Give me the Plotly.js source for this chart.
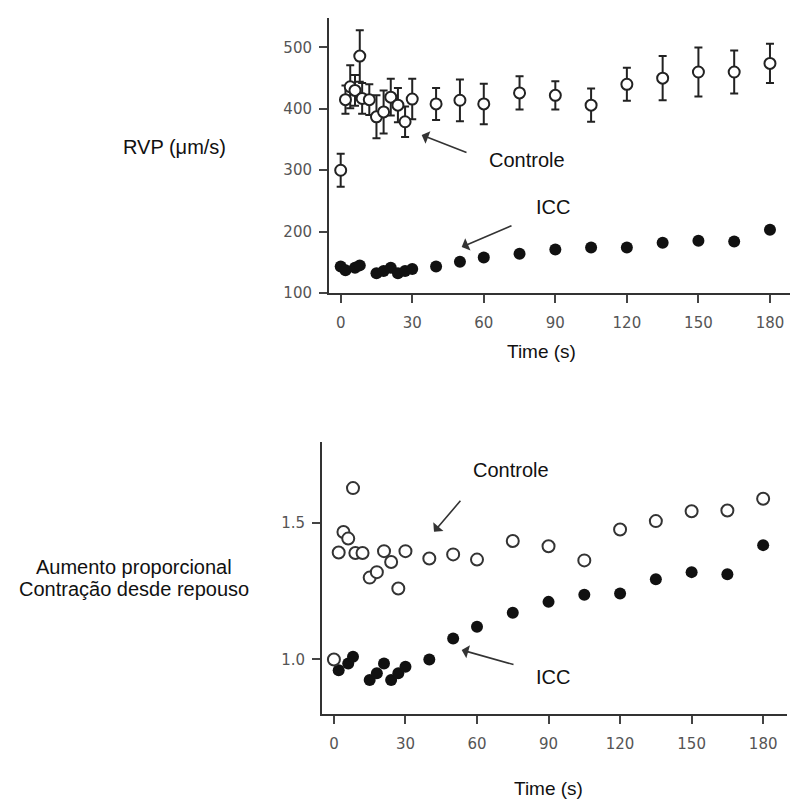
<!DOCTYPE html>
<html>
<head>
<meta charset="utf-8">
<script src="https://cdn.plot.ly/plotly-3.0.1.min.js"></script>
<style>html,body{margin:0;padding:0;background:#fff;}#chart{width:790px;height:799px;}</style>
</head>
<body>
<div id="chart"></div>
<script>
// ---- Data ----
// Top panel: RVP (um/s)
const timeCtrl = [0, 2, 4, 6, 8, 9, 12, 15, 18, 21, 24, 27, 30, 40, 50, 60, 75, 90, 105, 120, 135, 150, 165, 180];
const rvpCtrl  = [300, 415, 436, 430, 486, 417, 415, 387, 395, 419, 406, 379, 416, 408, 414, 408, 426, 422, 406, 440, 450, 460, 460, 474];
const rvpCtrlErr = [27, 23, 35, 25, 42, 25, 25, 35, 35, 30, 28, 25, 33, 26, 34, 33, 27, 23, 27, 27, 36, 40, 35, 32];

const timeIcc = [0, 2, 6, 8, 15, 18, 21, 24, 27, 30, 40, 50, 60, 75, 90, 105, 120, 135, 150, 165, 180];
const rvpIcc  = [143, 137, 141, 145, 132, 136, 141, 132, 136, 139, 143, 151, 158, 164, 171, 174, 174, 182, 185, 184, 203];

// Bottom panel: proportional increase of contraction since rest
const propCtrl = [1.00, 1.392, 1.467, 1.443, 1.628, 1.39, 1.39, 1.30, 1.32, 1.397, 1.357, 1.26, 1.397, 1.37, 1.385, 1.366, 1.434, 1.415, 1.363, 1.476, 1.507, 1.543, 1.546, 1.589];
const propIcc  = [1.00, 0.96, 0.985, 1.01, 0.925, 0.949, 0.985, 0.925, 0.949, 0.973, 1.00, 1.077, 1.12, 1.171, 1.211, 1.237, 1.242, 1.294, 1.32, 1.312, 1.419];

const xTicks = [0, 30, 60, 90, 120, 150, 180];
const yTicksTop = [100, 200, 300, 400, 500];
const yTicksBottom = [1.0, 1.5];
const yTicksBottomText = ['1.0', '1.5'];

// ---- Traces ----
const traces = [
  {x: timeIcc, y: rvpIcc, xaxis: 'x', yaxis: 'y', mode: 'markers', type: 'scatter',
   marker: {symbol: 'circle', size: 12, color: '#111', line: {width: 0}}},
  {x: timeCtrl, y: rvpCtrl, xaxis: 'x', yaxis: 'y', mode: 'markers', type: 'scatter',
   error_y: {type: 'data', array: rvpCtrlErr, visible: true, thickness: 2, width: 4, color: '#222'},
   marker: {symbol: 'circle', size: 11, color: '#fff', line: {width: 2, color: '#222'}}},
  {x: timeIcc, y: propIcc, xaxis: 'x2', yaxis: 'y2', mode: 'markers', type: 'scatter',
   marker: {symbol: 'circle', size: 12, color: '#111', line: {width: 0}}},
  {x: timeCtrl, y: propCtrl, xaxis: 'x2', yaxis: 'y2', mode: 'markers', type: 'scatter',
   marker: {symbol: 'circle', size: 12, color: '#fff', line: {width: 2, color: '#333'}}}
];

const W = 790, H = 799;
const px = v => v / W;
const py = v => 1 - v / H;

const tickFont = {family: 'DejaVu Sans', size: 15, color: '#555'};
const axisCommon = {
  showline: true, linecolor: '#333', linewidth: 2,
  ticks: 'outside', ticklen: 8, tickwidth: 2, tickcolor: '#444',
  showgrid: false, zeroline: false, tickfont: tickFont, fixedrange: true
};

const labelFont = {family: 'Liberation Sans, Arial, sans-serif', color: '#111'};
function txt(t, x, y, size) {
  return {text: t, x: px(x), y: py(y), xref: 'paper', yref: 'paper', showarrow: false,
          xanchor: 'center', yanchor: 'middle', font: Object.assign({size: size}, labelFont)};
}
function arrow(hx, hy, tx, ty) {
  return {text: '', x: px(hx), y: py(hy), xref: 'paper', yref: 'paper', showarrow: true,
          ax: tx - hx, ay: ty - hy, arrowhead: 1, arrowsize: 1.4, arrowwidth: 1.6,
          arrowcolor: '#333', standoff: 0, startstandoff: 0};
}

const layout = {
  width: W, height: H,
  margin: {l: 0, r: 0, t: 0, b: 0},
  paper_bgcolor: '#fff', plot_bgcolor: 'rgba(0,0,0,0)',
  showlegend: false,
  xaxis: Object.assign({}, axisCommon, {domain: [px(329), 1], range: [-4.9, 188.4], tickvals: xTicks, anchor: 'y', ticklabelstandoff: 7}),
  yaxis: Object.assign({}, axisCommon, {domain: [py(293), py(18)], range: [100, 548], tickvals: yTicksTop, anchor: 'x', ticklabelstandoff: 4}),
  xaxis2: Object.assign({}, axisCommon, {domain: [px(322), px(787)], range: [-5, 190], tickvals: xTicks, anchor: 'y2', ticklabelstandoff: 7}),
  yaxis2: Object.assign({}, axisCommon, {domain: [py(714), py(442)], range: [0.8, 1.797], tickvals: yTicksBottom, ticktext: yTicksBottomText, anchor: 'x2', ticklabelstandoff: 4}),
  annotations: [
    txt('RVP (μm/s)', 174, 147, 20),
    txt('Controle', 527, 160, 20),
    txt('ICC', 553, 207, 20),
    txt('Time (s)', 541, 351, 19),
    txt('Controle', 511, 470, 20),
    txt('ICC', 553, 677, 20),
    txt('Time (s)', 548, 788, 19),
    txt('Aumento proporcional', 134, 567, 20),
    txt('Contração desde repouso', 134, 589, 20),
    arrow(421.7, 135, 468, 153),
    arrow(461.7, 247, 513, 225),
    arrow(434, 531.7, 461.7, 499.3),
    arrow(461.7, 650, 515, 665)
  ]
};

Plotly.newPlot('chart', traces, layout, {displayModeBar: false, staticPlot: true});
</script>
</body>
</html>
